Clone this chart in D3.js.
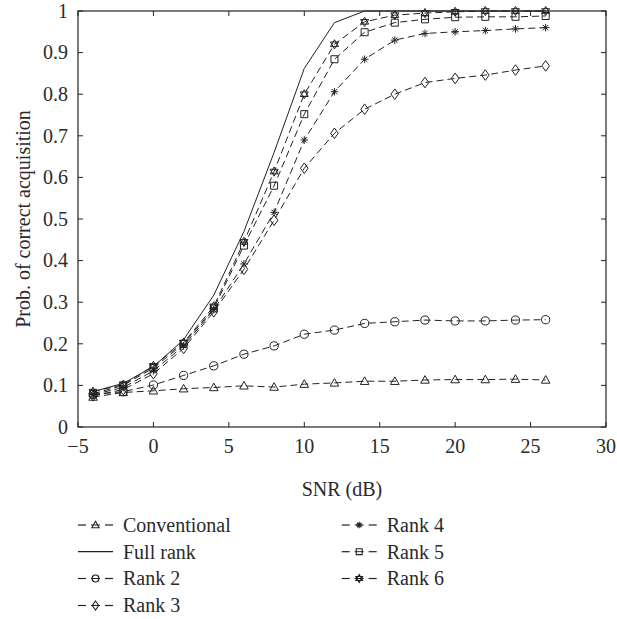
<!DOCTYPE html>
<html><head><meta charset="utf-8">
<script src="https://cdn.jsdelivr.net/npm/d3@7"></script>
<style>body{margin:0;background:#fff}svg{display:block}text{font-family:"Liberation Serif","DejaVu Serif",serif;fill:#2a2a2a}</style>
</head><body><svg id="c" width="617" height="619"></svg>
<script>
const snr = [-4,-2,0,2,4,6,8,10,12,14,16,18,20,22,24,26];
const conventional = [0.072,0.083,0.087,0.092,0.095,0.099,0.096,0.103,0.106,0.110,0.110,0.113,0.114,0.114,0.115,0.113];
const fullRank = [0.085,0.105,0.145,0.210,0.317,0.470,0.660,0.862,0.972,1.0,1.0,1.0,1.0,1.0,1.0,1.0];
const rank2 = [0.078,0.085,0.101,0.124,0.147,0.175,0.195,0.223,0.233,0.249,0.253,0.257,0.255,0.255,0.257,0.258];
const rank3 = [0.075,0.090,0.128,0.189,0.277,0.379,0.497,0.622,0.706,0.764,0.800,0.828,0.838,0.846,0.858,0.868];
const rank4 = [0.078,0.095,0.135,0.195,0.282,0.392,0.516,0.690,0.806,0.884,0.930,0.946,0.950,0.953,0.957,0.960];
const rank5 = [0.080,0.100,0.142,0.200,0.285,0.436,0.580,0.752,0.884,0.949,0.972,0.980,0.985,0.986,0.986,0.988];
const rank6 = [0.085,0.102,0.147,0.203,0.290,0.445,0.614,0.800,0.920,0.974,0.990,0.995,0.998,1.0,1.0,1.0];
const xTicks = [-5,0,5,10,15,20,25,30];
const yTicks = [0,0.1,0.2,0.3,0.4,0.5,0.6,0.7,0.8,0.9,1];
const seriesNames = ["Conventional","Full rank","Rank 2","Rank 3","Rank 4","Rank 5","Rank 6"];
const seriesMarkers = ["triangle","none","circle","diamond","asterisk","square","hexagram"];
const seriesData = [conventional, fullRank, rank2, rank3, rank4, rank5, rank6];

const svg = d3.select("#c");
const L=78, R=606, T=11, B=427;
const x = d3.scaleLinear().domain([-5,30]).range([L,R]);
const y = d3.scaleLinear().domain([0,1]).range([B,T]);
const ink="#222";
const FS=20;

function markerPath(type){
  const p = d3.path();
  if(type==="triangle"){ p.moveTo(0,-4.4); p.lineTo(4.3,3.2); p.lineTo(-4.3,3.2); p.closePath(); }
  else if(type==="circle"){ p.moveTo(4.1,0); p.arc(0,0,4.1,0,2*Math.PI); }
  else if(type==="diamond"){ p.moveTo(0,-5.3); p.lineTo(3.8,0); p.lineTo(0,5.3); p.lineTo(-3.8,0); p.closePath(); }
  else if(type==="square"){ p.rect(-3.5,-3.5,7,7); }
  else if(type==="asterisk"){ const r=3.8; p.moveTo(-r,0);p.lineTo(r,0); p.moveTo(0,-r);p.lineTo(0,r); const d=r*0.7; p.moveTo(-d,-d);p.lineTo(d,d); p.moveTo(-d,d);p.lineTo(d,-d); }
  else if(type==="hexagram"){ const r=4.6; for(let k=0;k<2;k++){ for(let i=0;i<3;i++){ const a=-Math.PI/2 + k*Math.PI + i*2*Math.PI/3; const px=r*Math.cos(a), py=r*Math.sin(a); if(i===0)p.moveTo(px,py); else p.lineTo(px,py);} p.closePath(); } }
  return p.toString();
}

svg.append("rect").attr("x",L).attr("y",T).attr("width",R-L).attr("height",B-T).attr("fill","none").attr("stroke",ink).attr("stroke-width",1.2);
const tl=5;
xTicks.forEach(t=>{
  svg.append("line").attr("x1",x(t)).attr("x2",x(t)).attr("y1",B).attr("y2",B-tl).attr("stroke",ink);
  svg.append("line").attr("x1",x(t)).attr("x2",x(t)).attr("y1",T).attr("y2",T+tl).attr("stroke",ink);
  svg.append("text").attr("x",x(t)).attr("y",453).attr("text-anchor","middle").attr("font-size",FS).text(t<0?"\u2212"+(-t):t);
});
yTicks.forEach(t=>{
  svg.append("line").attr("x1",L).attr("x2",L+tl).attr("y1",y(t)).attr("y2",y(t)).attr("stroke",ink);
  svg.append("line").attr("x1",R).attr("x2",R-tl).attr("y1",y(t)).attr("y2",y(t)).attr("stroke",ink);
  svg.append("text").attr("x",L-10).attr("y",y(t)+6.7).attr("text-anchor","end").attr("font-size",FS).text(t);
});
svg.append("text").attr("x",(L+R)/2).attr("y",496).attr("text-anchor","middle").attr("font-size",FS).text("SNR (dB)");
svg.append("text").attr("transform",`translate(30,${(T+B)/2}) rotate(-90)`).attr("text-anchor","middle").attr("font-size",FS).text("Prob. of correct acquisition");

const line = d3.line().x((d,i)=>x(snr[i])).y(d=>y(d));
seriesData.forEach((arr,si)=>{
  const g = svg.append("g");
  const dashed = seriesMarkers[si]!=="none";
  g.append("path").attr("d",line(arr)).attr("fill","none").attr("stroke",ink).attr("stroke-width",1)
    .attr("stroke-dasharray",dashed?"7,4":null);
  if(dashed){
    g.selectAll("path.m").data(arr).enter().append("path").attr("class","m")
      .attr("transform",(d,i)=>`translate(${x(snr[i])},${y(d)})`)
      .attr("d",markerPath(seriesMarkers[si])).attr("fill","none").attr("stroke",ink).attr("stroke-width",1);
  }
});

const legPos = [[78,525],[78,551.7],[78,578.5],[78,605.5],[341.7,525],[341.7,551.7],[341.7,578.5]];
seriesNames.forEach((n,i)=>{
  const [lx,ly]=legPos[i];
  const g=svg.append("g").attr("transform",`translate(${lx},${ly})`);
  if(seriesMarkers[i]==="none"){
    g.append("line").attr("x1",0).attr("x2",35).attr("y1",0).attr("y2",0).attr("stroke",ink).attr("stroke-width",1.2);
  } else {
    g.append("line").attr("x1",0).attr("x2",8).attr("y1",0).attr("y2",0).attr("stroke",ink).attr("stroke-width",1.2);
    g.append("line").attr("x1",27).attr("x2",35).attr("y1",0).attr("y2",0).attr("stroke",ink).attr("stroke-width",1.2);
    g.append("path").attr("transform","translate(17.5,0) scale(0.85)").attr("d",markerPath(seriesMarkers[i])).attr("fill","none").attr("stroke",ink).attr("stroke-width",1.3);
    g.append("line").attr("x1",13).attr("x2",22).attr("y1",0).attr("y2",0).attr("stroke",ink).attr("stroke-width",1);
  }
  g.append("text").attr("x",45).attr("y",6.8).attr("font-size",FS).text(n);
});
</script></body></html>
